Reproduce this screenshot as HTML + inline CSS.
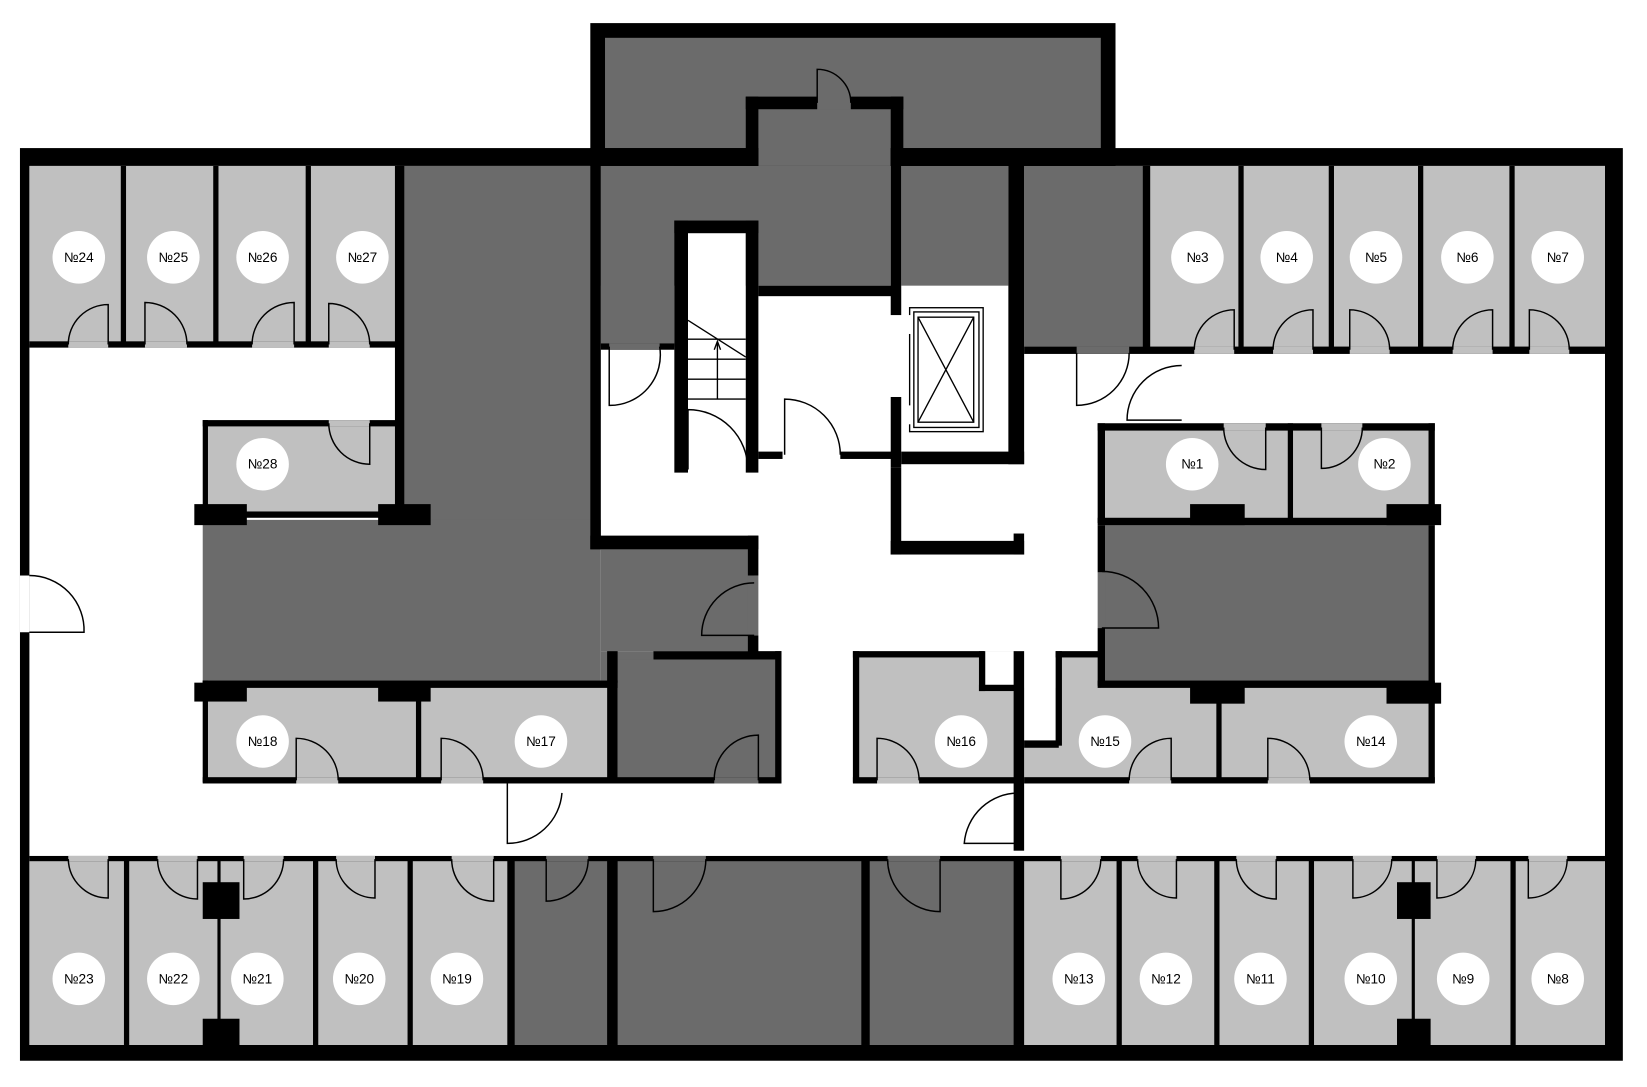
<!DOCTYPE html>
<html><head><meta charset="utf-8"><style>
html,body{margin:0;padding:0;background:#fff}
svg{display:block}
text{font-family:"Liberation Sans","DejaVu Sans",sans-serif;font-size:13px;font-weight:normal;fill:#000;text-anchor:middle;dominant-baseline:central}
</style></head><body>
<svg width="1647" height="1087" viewBox="0 0 1568 1035" preserveAspectRatio="none" xmlns="http://www.w3.org/2000/svg">
<rect width="1568" height="1035" fill="#fff"/>
<rect x="19" y="141" width="1526" height="869" fill="#000"/>
<rect x="28" y="158" width="1500" height="837" fill="#fff"/>
<rect x="19" y="548" width="9" height="54" fill="#fff"/>
<rect x="562" y="22" width="500" height="136" fill="#000"/>
<rect x="576" y="36" width="472" height="105" fill="#6b6b6b"/>
<rect x="722" y="104" width="126" height="54" fill="#6b6b6b"/>
<rect x="778" y="92" width="32" height="12" fill="#6b6b6b"/>

<g fill="#c0c0c0">
<rect x="28" y="158" width="350" height="170"/>
<rect x="1095" y="158" width="433" height="173"/>
<rect x="198" y="403" width="178" height="87"/>
<rect x="1048" y="405" width="315" height="90"/>
<rect x="193" y="655" width="385" height="90"/>
<rect x="812" y="620" width="156" height="125"/>
<rect x="975" y="655" width="388" height="90"/>
<rect x="1008" y="620" width="40" height="40"/>
<rect x="28" y="817" width="455" height="178"/>
<rect x="970" y="817" width="558" height="178"/>
</g>
<rect x="935" y="620" width="33" height="35" fill="#fff"/>
<rect x="975" y="620" width="30" height="85" fill="#fff"/>
<g fill="#6b6b6b">
<rect x="385" y="158" width="180" height="340"/>
<rect x="572" y="158" width="276" height="114"/>
<rect x="572" y="158" width="70" height="172"/>
<rect x="193" y="495" width="379" height="158"/>
<rect x="572" y="515" width="146" height="105"/>
<rect x="572" y="620" width="50" height="30"/>
<rect x="588" y="628" width="154" height="117"/>
<rect x="858" y="158" width="102" height="114"/>
<rect x="975" y="158" width="120" height="172"/>
<rect x="1052" y="495" width="308" height="155"/>
<rect x="483" y="817" width="487" height="178"/>
</g>
<rect x="655" y="222" width="55" height="228" fill="#fff"/>

<g fill="#000">
<rect x="562" y="141" width="160" height="17"/>
<rect x="710" y="92" width="12" height="66"/>
<rect x="710" y="92" width="68" height="12"/>
<rect x="810" y="92" width="50" height="12"/>
<rect x="848" y="92" width="12" height="66"/>
<rect x="848" y="141" width="214" height="17"/>
<rect x="115" y="158" width="5" height="170"/>
<rect x="203" y="158" width="5" height="170"/>
<rect x="291" y="158" width="5" height="170"/>
<rect x="28" y="325" width="350" height="6"/>
<rect x="376" y="158" width="9" height="325"/>
<rect x="1088" y="158" width="7" height="178"/>
<rect x="1179" y="158" width="5" height="173"/>
<rect x="1265" y="158" width="5" height="173"/>
<rect x="1350" y="158" width="5" height="173"/>
<rect x="1437" y="158" width="5" height="173"/>
<rect x="975" y="330" width="553" height="7"/>
<rect x="193" y="400" width="185" height="6"/>
<rect x="193" y="400" width="5" height="95"/>
<rect x="193" y="487" width="185" height="6"/>
<rect x="185" y="480" width="50" height="20"/>
<rect x="360" y="480" width="50" height="20"/>
<rect x="562" y="141" width="10" height="382"/>
<rect x="572" y="327" width="70" height="6"/>
<rect x="562" y="510" width="160" height="13"/>
<rect x="712" y="510" width="10" height="38"/>
<rect x="712" y="605" width="10" height="20"/>
<rect x="578" y="620" width="10" height="125"/>
<rect x="622" y="620" width="122" height="8"/>
<rect x="738" y="620" width="6" height="125"/>
<rect x="193" y="648" width="395" height="7"/>
<rect x="193" y="648" width="5" height="97"/>
<rect x="185" y="650" width="50" height="18"/>
<rect x="360" y="650" width="50" height="18"/>
<rect x="396" y="655" width="5" height="90"/>
<rect x="193" y="740" width="551" height="6"/>
<rect x="642" y="210" width="13" height="240"/>
<rect x="642" y="210" width="80" height="12"/>
<rect x="710" y="210" width="12" height="240"/>
<rect x="722" y="272" width="133" height="10"/>
<rect x="722" y="430" width="23" height="7"/>
<rect x="800" y="430" width="55" height="7"/>
<rect x="848" y="158" width="10" height="142"/>
<rect x="848" y="378" width="10" height="67"/>
<rect x="960" y="150" width="15" height="292"/>
<rect x="858" y="430" width="117" height="12"/>
<rect x="848" y="445" width="10" height="83"/>
<rect x="848" y="515" width="127" height="13"/>
<rect x="965" y="508" width="10" height="20"/>
<rect x="1045" y="403" width="321" height="7"/>
<rect x="1045" y="403" width="7" height="95"/>
<rect x="1226" y="403" width="5" height="92"/>
<rect x="1360" y="403" width="6" height="95"/>
<rect x="1045" y="493" width="321" height="7"/>
<rect x="1133" y="480" width="52" height="20"/>
<rect x="1320" y="480" width="52" height="20"/>
<rect x="1045" y="500" width="7" height="45"/>
<rect x="1045" y="598" width="7" height="55"/>
<rect x="1360" y="500" width="6" height="150"/>
<rect x="1045" y="648" width="321" height="7"/>
<rect x="1133" y="650" width="52" height="20"/>
<rect x="1320" y="650" width="52" height="20"/>
<rect x="1158" y="655" width="5" height="90"/>
<rect x="1360" y="650" width="6" height="95"/>
<rect x="975" y="740" width="391" height="6"/>
<rect x="1005" y="620" width="6" height="90"/>
<rect x="1005" y="620" width="45" height="6"/>
<rect x="975" y="705" width="33" height="7"/>
<rect x="812" y="620" width="125" height="6"/>
<rect x="812" y="620" width="6" height="125"/>
<rect x="932" y="620" width="6" height="38"/>
<rect x="932" y="652" width="36" height="6"/>
<rect x="965" y="620" width="10" height="190"/>
<rect x="812" y="740" width="160" height="6"/>
<rect x="28" y="815" width="1500" height="5"/>
<rect x="118" y="817" width="5" height="178"/>
<rect x="207" y="817" width="3" height="178"/>
<rect x="193" y="840" width="35" height="35"/>
<rect x="193" y="970" width="35" height="30"/>
<rect x="298" y="817" width="5" height="178"/>
<rect x="388" y="817" width="5" height="178"/>
<rect x="483" y="817" width="7" height="178"/>
<rect x="578" y="817" width="10" height="178"/>
<rect x="820" y="817" width="8" height="178"/>
<rect x="965" y="817" width="10" height="178"/>
<rect x="1063" y="817" width="5" height="178"/>
<rect x="1156" y="817" width="5" height="178"/>
<rect x="1246" y="817" width="5" height="178"/>
<rect x="1344" y="817" width="3" height="178"/>
<rect x="1330" y="840" width="32" height="35"/>
<rect x="1330" y="970" width="32" height="30"/>
<rect x="1438" y="817" width="5" height="178"/>
</g>

<g fill="#c0c0c0">
<rect x="65" y="325" width="38" height="6"/><rect x="138" y="325" width="40" height="6"/>
<rect x="240" y="325" width="40" height="6"/><rect x="313" y="325" width="39" height="6"/>
<rect x="1137" y="330" width="38" height="7"/><rect x="1212" y="330" width="38" height="7"/>
<rect x="1285" y="330" width="38" height="7"/><rect x="1383" y="330" width="38" height="7"/>
<rect x="1456" y="330" width="38" height="7"/>
<rect x="313" y="400" width="39" height="6"/>
<rect x="1165" y="403" width="40" height="7"/><rect x="1258" y="403" width="39" height="7"/>
<rect x="282" y="740" width="40" height="6"/><rect x="420" y="740" width="40" height="6"/>
<rect x="835" y="740" width="40" height="6"/>
<rect x="1075" y="740" width="40" height="6"/><rect x="1207" y="740" width="40" height="6"/>
<rect x="65" y="815" width="38" height="5"/><rect x="150" y="815" width="38" height="5"/>
<rect x="232" y="815" width="38" height="5"/><rect x="320" y="815" width="37" height="5"/>
<rect x="430" y="815" width="40" height="5"/>
<rect x="1010" y="815" width="38" height="5"/><rect x="1083" y="815" width="37" height="5"/>
<rect x="1177" y="815" width="38" height="5"/><rect x="1288" y="815" width="37" height="5"/>
<rect x="1368" y="815" width="37" height="5"/><rect x="1455" y="815" width="37" height="5"/>
</g>
<g fill="#6b6b6b">
<rect x="1025" y="330" width="50" height="7"/>
<rect x="580" y="327" width="48" height="6"/>
<rect x="680" y="740" width="42" height="6"/>
<rect x="520" y="815" width="40" height="5"/>
<rect x="622" y="815" width="50" height="5"/><rect x="845" y="815" width="50" height="5"/>
<rect x="1045" y="545" width="7" height="53"/>
<rect x="712" y="548" width="10" height="57"/>
</g>

<g stroke="#000" stroke-width="1.3" fill="none">
<path d="M655,305 L710,340 M655,323 H710 M655,342 H710 M655,361 H710 M655,380 H710 M683,380 V325 M680,333 L683,325 L686,333"/>
<rect x="866" y="293" width="70" height="118"/>
<rect x="870" y="297" width="62" height="110"/>
<rect x="874" y="302" width="53" height="100"/>
<path d="M874,302 L927,402 M927,302 L874,402"/>
</g>
<rect x="862" y="300" width="6" height="18" fill="#fff"/>
<rect x="862" y="386" width="6" height="18" fill="#fff"/>

<g stroke="#000" stroke-width="1.4" fill="none">
<path d="M103,328 V290 A38,38 0 0 0 65,328"/>
<path d="M138,328 V288 A40,40 0 0 1 178,328"/>
<path d="M280,328 V288 A40,40 0 0 0 240,328"/>
<path d="M313,328 V289 A39,39 0 0 1 352,328"/>
<path d="M1175,333 V295 A38,38 0 0 0 1137,333"/>
<path d="M1250,333 V295 A38,38 0 0 0 1212,333"/>
<path d="M1285,333 V295 A38,38 0 0 1 1323,333"/>
<path d="M1421,333 V295 A38,38 0 0 0 1383,333"/>
<path d="M1456,333 V295 A38,38 0 0 1 1494,333"/>
<path d="M1025,336 V386 A50,50 0 0 0 1075,336"/>
<path d="M1125,400 H1073 A52,52 0 0 1 1125,348"/>
<path d="M580,330 V386 A48,48 0 0 0 628,330"/>
<path d="M352,403 V442 A39,39 0 0 1 313,403"/>
<path d="M655,447 V390 A57,57 0 0 1 712,447"/>
<path d="M747,433 V380 A53,53 0 0 1 800,433"/>
<path d="M1205,407 V447 A40,40 0 0 1 1165,407"/>
<path d="M1258,407 V446 A39,39 0 0 0 1297,407"/>
<path d="M28,602 H80 A52,52 0 0 0 28,548"/>
<path d="M1049,598 H1103 A54,54 0 0 0 1049,544"/>
<path d="M718,605 H668 A50,50 0 0 1 718,555"/>
<path d="M282,743 V703 A40,40 0 0 1 322,743"/>
<path d="M420,743 V703 A40,40 0 0 1 460,743"/>
<path d="M722,743 V700 A42,42 0 0 0 680,743"/>
<path d="M835,743 V703 A40,40 0 0 1 875,743"/>
<path d="M1115,743 V703 A40,40 0 0 0 1075,743"/>
<path d="M1207,743 V703 A40,40 0 0 1 1247,743"/>
<path d="M483,746 V803 A52,52 0 0 0 535,755"/>
<path d="M970,755 V803 H918 A52,52 0 0 1 970,755"/>
<path d="M103,818 V855 A38,38 0 0 1 65,818"/>
<path d="M188,818 V856 A38,38 0 0 1 150,818"/>
<path d="M232,818 V856 A38,38 0 0 0 270,818"/>
<path d="M357,818 V855 A37,37 0 0 1 320,818"/>
<path d="M470,818 V858 A40,40 0 0 1 430,818"/>
<path d="M520,818 V858 A40,40 0 0 0 560,818"/>
<path d="M622,818 V868 A50,50 0 0 0 672,818"/>
<path d="M895,818 V868 A50,50 0 0 1 845,818"/>
<path d="M1010,818 V856 A38,38 0 0 0 1048,818"/>
<path d="M1120,818 V855 A37,37 0 0 1 1083,818"/>
<path d="M1215,818 V856 A38,38 0 0 1 1177,818"/>
<path d="M1288,818 V855 A37,37 0 0 0 1325,818"/>
<path d="M1368,818 V855 A37,37 0 0 0 1405,818"/>
<path d="M1455,818 V855 A37,37 0 0 0 1492,818"/>
<path d="M778,98 V66 A32,32 0 0 1 810,98"/>
</g>

<g fill="#fff">
<circle cx="75" cy="245" r="25"/><circle cx="165" cy="245" r="25"/><circle cx="250" cy="245" r="25"/><circle cx="345" cy="245" r="25"/>
<circle cx="250" cy="442" r="25"/>
<circle cx="1140" cy="245" r="25"/><circle cx="1225" cy="245" r="25"/><circle cx="1310" cy="245" r="25"/><circle cx="1397" cy="245" r="25"/><circle cx="1483" cy="245" r="25"/>
<circle cx="1135" cy="442" r="25"/><circle cx="1318" cy="442" r="25"/>
<circle cx="250" cy="706" r="25"/><circle cx="515" cy="706" r="25"/><circle cx="915" cy="706" r="25"/><circle cx="1052" cy="706" r="25"/><circle cx="1305" cy="706" r="25"/>
<circle cx="75" cy="932" r="25"/><circle cx="165" cy="932" r="25"/><circle cx="245" cy="932" r="25"/><circle cx="342" cy="932" r="25"/><circle cx="435" cy="932" r="25"/>
<circle cx="1027" cy="932" r="25"/><circle cx="1110" cy="932" r="25"/><circle cx="1200" cy="932" r="25"/><circle cx="1305" cy="932" r="25"/><circle cx="1393" cy="932" r="25"/><circle cx="1483" cy="932" r="25"/>
</g>
<g>
<text x="75" y="245">№24</text><text x="165" y="245">№25</text><text x="250" y="245">№26</text><text x="345" y="245">№27</text>
<text x="250" y="442">№28</text>
<text x="1140" y="245">№3</text><text x="1225" y="245">№4</text><text x="1310" y="245">№5</text><text x="1397" y="245">№6</text><text x="1483" y="245">№7</text>
<text x="1135" y="442">№1</text><text x="1318" y="442">№2</text>
<text x="250" y="706">№18</text><text x="515" y="706">№17</text><text x="915" y="706">№16</text><text x="1052" y="706">№15</text><text x="1305" y="706">№14</text>
<text x="75" y="932">№23</text><text x="165" y="932">№22</text><text x="245" y="932">№21</text><text x="342" y="932">№20</text><text x="435" y="932">№19</text>
<text x="1027" y="932">№13</text><text x="1110" y="932">№12</text><text x="1200" y="932">№11</text><text x="1305" y="932">№10</text><text x="1393" y="932">№9</text><text x="1483" y="932">№8</text>
</g>
</svg>
</body></html>
